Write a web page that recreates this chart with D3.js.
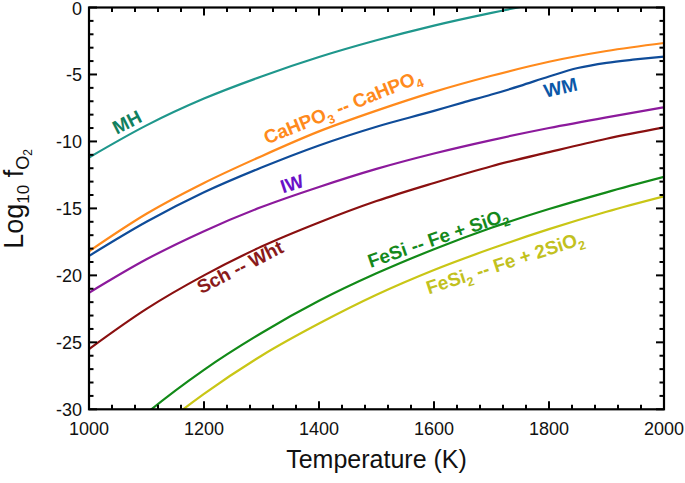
<!DOCTYPE html>
<html>
<head>
<meta charset="utf-8">
<script src="https://cdn.jsdelivr.net/npm/d3@7"></script>
<style>
  html, body { margin: 0; padding: 0; background: #fff; }
  svg { display: block; font-family: "Liberation Sans", Arial, sans-serif; }
</style>
</head>
<body>
<svg id="chart" width="685" height="483"></svg>
<script>
// ---- data ----
const temps = [1000, 1100, 1200, 1300, 1400, 1500, 1600, 1700, 1800, 1900, 2000];
const mhValues      = [-11.2, -8.8, -6.8, -5.15, -3.7, -2.45, -1.35, -0.4, 0.45, 1.2, 1.9];
const cahpoValues   = [-18.2, -15.4, -13.1, -11.1, -9.25, -7.7, -6.3, -5.1, -4.05, -3.25, -2.65];
const wmTemps       = [1000, 1100, 1200, 1300, 1400, 1500, 1600, 1650, 1700, 1750, 1800, 1850, 1900, 1950, 2000];
const wmValues      = [-18.55, -16.0, -13.8, -11.95, -10.3, -8.9, -7.72, -7.1, -6.5, -5.85, -5.15, -4.52, -4.13, -3.88, -3.67];
const iwValues      = [-21.3, -18.8, -16.7, -14.9, -13.4, -12.05, -10.9, -9.9, -9.0, -8.2, -7.45];
const schWhtValues  = [-25.5, -22.5, -20.0, -17.85, -16.05, -14.45, -13.1, -11.85, -10.8, -9.8, -8.95];
const fesiValues    = [-34.2, -30.3, -27.05, -24.3, -21.9, -19.85, -18.05, -16.45, -15.05, -13.8, -12.65];
const fesi2Values   = [-36.3, -32.2, -28.85, -26.0, -23.6, -21.45, -19.6, -18.0, -16.55, -15.25, -14.1];

const xTicks = [1000, 1200, 1400, 1600, 1800, 2000];
const yTicks = [0, -5, -10, -15, -20, -25, -30];

const series = [
  { name: "MH",     t: temps,   v: mhValues,     line: "#1f978c" },
  { name: "CaHPO",  t: temps,   v: cahpoValues,  line: "#ff8a1c" },
  { name: "WM",     t: wmTemps, v: wmValues,     line: "#0f4c99" },
  { name: "IW",     t: temps,   v: iwValues,     line: "#8c1a9c" },
  { name: "SchWht", t: temps,   v: schWhtValues, line: "#8a1010" },
  { name: "FeSi",   t: temps,   v: fesiValues,   line: "#128a18" },
  { name: "FeSi2",  t: temps,   v: fesi2Values,  line: "#c9c616" }
];

// ---- layout ----
const svg = d3.select("#chart");
const L = 89, R = 664, T = 7.5, B = 409.3;
const x = d3.scaleLinear().domain([1000, 2000]).range([L, R]);
const y = d3.scaleLinear().domain([-30, 0]).range([B, T]);

svg.append("defs").append("clipPath").attr("id", "clip")
  .append("rect").attr("x", L).attr("y", T).attr("width", R - L).attr("height", B - T);

const line = d3.line().x(d => x(d[0])).y(d => y(d[1])).curve(d3.curveMonotoneX);
const g = svg.append("g").attr("clip-path", "url(#clip)");
series.forEach(s => {
  g.append("path")
    .datum(s.t.map((t, i) => [t, s.v[i]]))
    .attr("d", line)
    .attr("fill", "none")
    .attr("stroke", s.line)
    .attr("stroke-width", 2.2);
});

// ---- axes (inward ticks on all four sides) ----
const xMinor = d3.range(1000, 2001, 40).filter(v => !xTicks.includes(v));
const yMinor = d3.range(-30, 0.1, 1).filter(v => !yTicks.includes(v));
const ax = svg.append("g").attr("stroke", "#000").attr("stroke-width", 2);
function tickSet(vals, len, which) {
  vals.forEach(v => {
    if (which === "x") {
      ax.append("line").attr("x1", x(v)).attr("x2", x(v)).attr("y1", B).attr("y2", B - len);
      ax.append("line").attr("x1", x(v)).attr("x2", x(v)).attr("y1", T).attr("y2", T + len);
    } else {
      ax.append("line").attr("y1", y(v)).attr("y2", y(v)).attr("x1", L).attr("x2", L + len);
      ax.append("line").attr("y1", y(v)).attr("y2", y(v)).attr("x1", R).attr("x2", R - len);
    }
  });
}
tickSet(xTicks, 8, "x");
tickSet(xMinor, 4.5, "x");
tickSet(yTicks, 8, "y");
tickSet(yMinor, 4.5, "y");
svg.append("rect").attr("x", L).attr("y", T).attr("width", R - L).attr("height", B - T)
  .attr("fill", "none").attr("stroke", "#000").attr("stroke-width", 2.2);

// tick labels
svg.append("g").selectAll("text").data(xTicks).join("text")
  .attr("x", d => x(d)).attr("y", 435)
  .attr("text-anchor", "middle").attr("font-size", 18).attr("fill", "#111")
  .text(d => d);
svg.append("g").selectAll("text").data(yTicks).join("text")
  .attr("x", 82).attr("y", d => Math.max(y(d), 8.5)).attr("dy", "0.35em")
  .attr("text-anchor", "end").attr("font-size", 18).attr("fill", "#111")
  .text(d => d);

// axis titles
svg.append("text").attr("x", x(1500)).attr("y", 468)
  .attr("text-anchor", "middle").attr("font-size", 25).attr("fill", "#111")
  .text("Temperature (K)");

const yt = svg.append("text")
  .attr("transform", "translate(23,199) rotate(-90)")
  .attr("text-anchor", "middle").attr("font-size", 27).attr("fill", "#111");
yt.append("tspan").text("Log");
yt.append("tspan").attr("font-size", 17).attr("dy", 6).text("10");
yt.append("tspan").attr("dy", -6).text(" f");
yt.append("tspan").attr("font-size", 18).attr("dy", 6).text("O");
yt.append("tspan").attr("font-size", 12).attr("dy", 3).text("2");

// ---- curve labels ----
const labels = [
  { parts: [["MH"]], x: 130, y: 128, rot: -27, color: "#11805e" },
  { parts: [["CaHPO"], ["3", 1], [" -- CaHPO"], ["4", 1]], x: 345, y: 113, rot: -22, color: "#ff8a1c" },
  { parts: [["WM"]], x: 562, y: 94, rot: -13, color: "#0b58a8" },
  { parts: [["IW"]], x: 294, y: 190, rot: -18, color: "#6a10c8" },
  { parts: [["Sch -- Wht"]], x: 243, y: 273, rot: -27, color: "#8a1a1a" },
  { parts: [["FeSi -- Fe + SiO"], ["2", 1]], x: 440, y: 244, rot: -19, color: "#15891c" },
  { parts: [["FeSi"], ["2", 1], [" -- Fe + 2SiO"], ["2", 1]], x: 507, y: 269, rot: -18, color: "#c2c11e" }
];
labels.forEach(lb => {
  const t = svg.append("text")
    .attr("transform", `translate(${lb.x},${lb.y}) rotate(${lb.rot})`)
    .attr("text-anchor", "middle").attr("font-size", 19).attr("font-weight", "bold")
    .attr("fill", lb.color);
  let shifted = false;
  lb.parts.forEach(p => {
    const sp = t.append("tspan").text(p[0]);
    if (p[1]) { sp.attr("font-size", 12.5).attr("dy", 5); shifted = true; }
    else if (shifted) { sp.attr("dy", -5); shifted = false; }
  });
});
</script>
</body>
</html>
